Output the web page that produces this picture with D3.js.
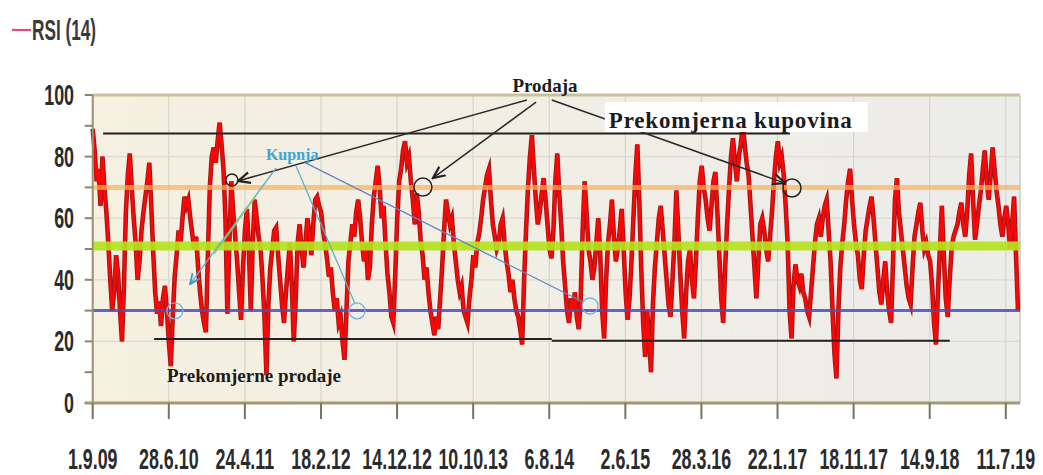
<!DOCTYPE html>
<html lang="hr">
<head>
<meta charset="UTF-8">
<title>RSI (14)</title>
<style>
  body { margin: 0; background: #fff; }
  .lbl { font-family: "Liberation Sans", Arial, sans-serif; font-weight: bold; fill: #2b2b2b; font-size: 21px; }
  .note { font-family: "Liberation Serif", "Times New Roman", serif; font-weight: bold; fill: #1c1c1c; }
</style>
</head>
<body>
<svg id="chart" width="1043" height="475"></svg>
<script src="https://cdn.jsdelivr.net/npm/d3@7"></script>
<script>
// --- data -------------------------------------------------------------
const startDate = "2009-09-01";
const lastDate = "2019-08-28";
const axisEnd = "2019-09-05";

const tickDates = ["2009-09-01", "2010-06-28", "2011-04-24", "2012-02-18", "2012-12-14", "2013-10-10",
  "2014-08-06", "2015-06-02", "2016-03-28", "2017-01-22", "2017-11-18", "2018-09-14", "2019-07-11"];
const tickLabels = ["1.9.09", "28.6.10", "24.4.11", "18.2.12", "14.12.12", "10.10.13",
  "6.8.14", "2.6.15", "28.3.16", "22.1.17", "18.11.17", "14.9.18", "11.7.19"];
const yTicks = [0, 20, 40, 60, 80, 100];

// RSI(14), evenly spaced samples
const rsi = [
  89,82,72,76,64,80,70,62,52,40,30,36,48,42,30,20,38,62,74,81,70,60,52,40,46,56,62,67,72,78,64,49,36,29,33,25,34,38,30,20,
  12,28,41,48,56,52,60,67,64,66,60,55,50,54,44,36,30,26,23,48,70,80,83,78,85,91,84,76,60,29,52,72,62,54,46,36,27,44,56,63,
  50,30,52,66,60,54,50,40,28,9,32,44,50,56,57,48,40,32,26,36,44,52,38,20,34,52,58,50,44,52,60,55,48,58,66,
  67,64,62,56,52,47,41,44,36,30,34,26,28,20,14,30,46,52,58,54,62,66,60,52,46,52,40,44,58,67,72,77,70,60,64,52,42,36,28,26,
  42,60,72,76,82,85,78,80,72,66,58,68,62,53,48,40,44,36,30,26,22,28,24,34,44,56,66,62,58,60,52,46,40,36,38,30,28,26,34,40,
  48,44,52,55,60,66,70,74,76,66,58,54,50,52,58,60,52,46,42,36,40,34,30,28,24,19,40,56,70,80,87,76,66,58,62,68,73,66,
  58,50,47,56,72,81,68,58,46,38,30,26,34,30,36,28,24,34,56,72,62,50,46,40,44,52,60,48,30,21,40,52,58,66,54,46,50,56,63,50,
  36,27,34,46,60,74,84,66,44,26,15,30,22,10,32,44,52,60,64,56,48,40,32,28,40,52,69,56,42,30,21,36,46,50,40,34,46,60,72,77,
  70,66,60,56,64,72,75,62,48,34,26,44,58,70,80,86,78,72,80,84,90,84,78,74,64,54,44,34,46,58,60,56,50,46,54,62,72,80,85,78,
  80,74,64,52,30,21,38,45,40,38,42,36,34,30,28,36,44,52,58,60,54,60,64,66,56,46,30,16,8,30,44,52,58,66,72,76,66,58,52,48,
  40,37,48,56,60,64,67,60,52,44,36,32,40,46,36,30,26,46,66,73,62,56,50,44,38,34,32,44,54,58,62,65,56,50,52,48,46,38,26,19,
  36,50,64,48,34,28,40,50,54,56,58,62,65,58,54,62,74,81,66,53,58,64,69,76,82,72,66,74,83,76,69,64,58,54,60,64,58,50,58,67,
  48,30
];

const overbought = 70, midLevel = 51, oversold = 30;
const upperMark = 87.5, lowerMark = 20.8, lowerMark2 = 20.2;

// annotations, in days after start / RSI units
const upperSpan = [41, 2749];
const lowerSpans = [[242, 1810, lowerMark], [1810, 3379, lowerMark2]];
const sellArrows = [[1712, 98.4, 573, 72.1], [1748, 97.7, 1341, 73], [1810, 98.4, 2729, 71.4]];
const sellCircles = [[1302, 70.1], [2757, 69.8], [549, 72.4]];
const buyLines = [[723, 76.3, 384, 38.6], [802, 76.9, 1035, 32.1], [841, 77.9, 1933, 32.8]];
const buyCircles = [[324, 29.9], [1042, 29.9], [1961, 31.5]];

// --- scales -----------------------------------------------------------
const parse = d3.timeParse("%Y-%m-%d");
const t0 = parse(startDate), t1 = parse(lastDate);
const stepMs = (t1 - t0) / (rsi.length - 1);
const series = rsi.map((v, i) => ({ date: new Date(+t0 + i * stepMs), v }));

const x = d3.scaleTime().domain([t0, parse(axisEnd)]).range([92.7, 1020]);
const y = d3.scaleLinear().domain([0, 100]).range([403, 95]);
const xd = d => x(d3.timeDay.offset(t0, d));

const svg = d3.select("#chart");
const defs = svg.append("defs");

const grad = defs.append("linearGradient").attr("id", "bg");
grad.append("stop").attr("offset", "0%").attr("stop-color", "#f6f0e0");
grad.append("stop").attr("offset", "100%").attr("stop-color", "#ececea");

function marker(id, color) {
  defs.append("marker").attr("id", id)
    .attr("viewBox", "0 0 10 10").attr("refX", 9).attr("refY", 5)
    .attr("markerWidth", 9).attr("markerHeight", 9).attr("orient", "auto")
    .append("path").attr("d", "M0,1 L9,5 L0,9")
    .attr("fill", "none").attr("stroke", color).attr("stroke-width", 1.6);
}
marker("arrBlack", "#222");
marker("arrBlue", "#3a9ac8");

// plot area
svg.append("rect")
  .attr("x", x.range()[0]).attr("y", y(100))
  .attr("width", x.range()[1] - x.range()[0]).attr("height", y(0) - y(100))
  .attr("fill", "url(#bg)");

// grid
svg.append("g").selectAll("line").data(tickDates).join("line")
  .attr("x1", d => x(parse(d))).attr("x2", d => x(parse(d)))
  .attr("y1", y(100)).attr("y2", y(0))
  .attr("stroke", "#d6d5cc").attr("stroke-width", 1.2);
svg.append("g").selectAll("line").data([20, 40, 60, 80]).join("line")
  .attr("x1", x.range()[0]).attr("x2", x.range()[1])
  .attr("y1", d => y(d)).attr("y2", d => y(d))
  .attr("stroke", "#dedad0").attr("stroke-width", 1.2);

// frame
svg.append("line").attr("x1", x.range()[0]).attr("x2", x.range()[1])
  .attr("y1", y(100)).attr("y2", y(100)).attr("stroke", "#cdbf9c").attr("stroke-width", 3);
svg.append("line").attr("x1", x.range()[1]).attr("x2", x.range()[1])
  .attr("y1", y(100)).attr("y2", y(0)).attr("stroke", "#d6d5cc").attr("stroke-width", 2);

// RSI line
const line = d3.line().x(d => x(d.date)).y(d => y(d.v));
svg.append("path").datum(series).attr("d", line)
  .attr("fill", "none").attr("stroke", "#a01818").attr("stroke-width", 4.6)
  .attr("stroke-linejoin", "miter").attr("stroke-miterlimit", 6);
svg.append("path").datum(series).attr("d", line)
  .attr("fill", "none").attr("stroke", "#ff0606").attr("stroke-width", 2.6)
  .attr("stroke-linejoin", "miter").attr("stroke-miterlimit", 6);

// level lines
function hline(v, color, w, op) {
  svg.append("line").attr("x1", x.range()[0]).attr("x2", x.range()[1])
    .attr("y1", y(v)).attr("y2", y(v))
    .attr("stroke", color).attr("stroke-width", w).attr("stroke-opacity", op);
}
hline(overbought, "#f6b25e", 5, 0.7);
hline(midLevel, "#b4e21e", 9, 0.92);
hline(oversold, "#4c4cb4", 3, 0.85);

// black marker lines
svg.append("line").attr("x1", xd(upperSpan[0])).attr("x2", xd(upperSpan[1]))
  .attr("y1", y(upperMark)).attr("y2", y(upperMark)).attr("stroke", "#222").attr("stroke-width", 2);
svg.append("g").selectAll("line").data(lowerSpans).join("line")
  .attr("x1", d => xd(d[0])).attr("x2", d => xd(d[1]))
  .attr("y1", d => y(d[2])).attr("y2", d => y(d[2]))
  .attr("stroke", "#222").attr("stroke-width", 2);

// axes
svg.append("line").attr("x1", x.range()[0]).attr("x2", x.range()[0])
  .attr("y1", y(100)).attr("y2", y(0) + 2).attr("stroke", "#9c9272").attr("stroke-width", 2);
svg.append("g").selectAll("line").data(d3.range(0, 101, 10)).join("line")
  .attr("x1", x.range()[0] - 8).attr("x2", x.range()[0])
  .attr("y1", d => y(d)).attr("y2", d => y(d))
  .attr("stroke", "#8e8466").attr("stroke-width", 2);
svg.append("line").attr("x1", x.range()[0] - 8).attr("x2", x.range()[1])
  .attr("y1", y(0)).attr("y2", y(0)).attr("stroke", "#a49772").attr("stroke-width", 3);
svg.append("g").selectAll("line").data(tickDates).join("line")
  .attr("x1", d => x(parse(d))).attr("x2", d => x(parse(d)))
  .attr("y1", y(0)).attr("y2", y(0) + 16)
  .attr("stroke", "#7a7460").attr("stroke-width", 2);

svg.append("g").selectAll("text").data(yTicks).join("text").attr("class", "lbl")
  .attr("text-anchor", "end")
  .attr("transform", d => `translate(74,${y(d) + 10}) scale(0.85,1.4)`)
  .text(d => d);
svg.append("g").selectAll("text").data(tickDates).join("text").attr("class", "lbl")
  .attr("text-anchor", "middle")
  .attr("transform", d => `translate(${x(parse(d))},469) scale(0.85,1.4)`)
  .text((d, i) => tickLabels[i]);

// legend
svg.append("line").attr("x1", 12).attr("x2", 31).attr("y1", 30).attr("y2", 30)
  .attr("stroke", "#d9507a").attr("stroke-width", 2.2);
svg.append("text").attr("class", "lbl").style("fill", "#3a3a3a")
  .attr("transform", "translate(32,40) scale(0.82,1.4)").text("RSI (14)");

// annotations: Prodaja / Prekomjerna kupovina
svg.append("g").selectAll("line").data(sellArrows).join("line")
  .attr("x1", d => xd(d[0])).attr("y1", d => y(d[1]))
  .attr("x2", d => xd(d[2])).attr("y2", d => y(d[3]))
  .attr("stroke", "#2a2a2a").attr("stroke-width", 1.5)
  .attr("marker-end", "url(#arrBlack)");
svg.append("g").selectAll("circle").data(sellCircles).join("circle")
  .attr("cx", d => xd(d[0])).attr("cy", d => y(d[1]))
  .attr("r", (d, i) => i < 2 ? 9 : 6)
  .attr("fill", "none").attr("stroke", "#222").attr("stroke-width", 1.5);

svg.append("text").attr("class", "note").attr("font-size", 19)
  .attr("x", xd(1783)).attr("y", y(101)).attr("text-anchor", "middle").text("Prodaja");

svg.append("rect").attr("x", xd(2019)).attr("y", y(97.7))
  .attr("width", xd(3056) - xd(2019)).attr("height", y(88) - y(97.7)).attr("fill", "#fff");
svg.append("text").attr("class", "note").attr("font-size", 23).attr("letter-spacing", 0.8)
  .attr("x", xd(2035)).attr("y", y(89.4)).text("Prekomjerna kupovina");

// annotations: Kupnja / Prekomjerne prodaje
svg.append("g").selectAll("line").data(buyLines).join("line")
  .attr("x1", d => xd(d[0])).attr("y1", d => y(d[1]))
  .attr("x2", d => xd(d[2])).attr("y2", d => y(d[3]))
  .attr("stroke", (d, i) => i === 2 ? "#5f86c8" : "#5cb0c8").attr("stroke-width", 1.3)
  .attr("marker-end", (d, i) => i === 0 ? "url(#arrBlue)" : null);
svg.append("line").attr("x1", xd(644)).attr("y1", y(67.2)).attr("x2", xd(479)).attr("y2", y(48.4))
  .attr("stroke", "#8fcf6a").attr("stroke-width", 1.3);
svg.append("g").selectAll("circle").data(buyCircles).join("circle")
  .attr("cx", d => xd(d[0])).attr("cy", d => y(d[1])).attr("r", 8)
  .attr("fill", "none").attr("stroke", "#7aaede").attr("stroke-width", 1.3);

svg.append("text").attr("class", "note").attr("font-size", 16).style("fill", "#3aa6d6")
  .attr("x", xd(683)).attr("y", y(78.9)).text("Kupnja");
svg.append("text").attr("class", "note").attr("font-size", 19)
  .attr("x", xd(293)).attr("y", y(6.8)).text("Prekomjerne prodaje");
</script>
</body>
</html>
